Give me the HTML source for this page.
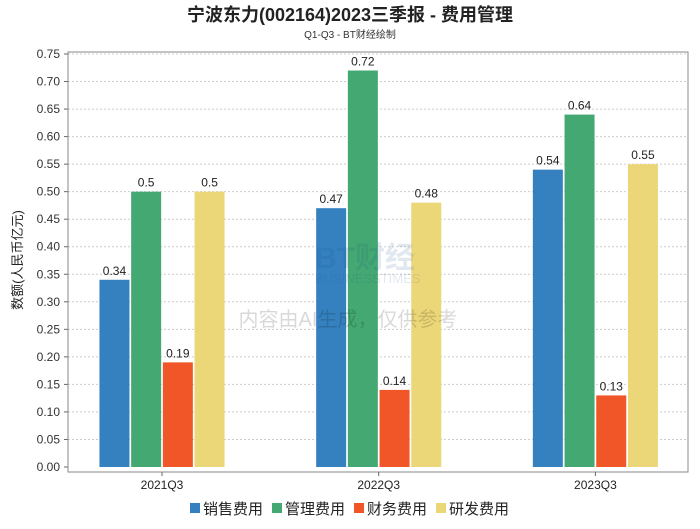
<!DOCTYPE html>
<html><head><meta charset="utf-8"><style>
body{margin:0;background:#fff;font-family:"Liberation Sans","Noto Sans CJK SC",sans-serif;}
svg text{font-family:"Liberation Sans","Noto Sans CJK SC",sans-serif;}
</style></head><body>
<svg id="c" width="700" height="524">
<text x="350" y="21" text-anchor="middle" font-size="18" font-weight="bold" fill="#222">宁波东力(002164)2023三季报 - 费用管理</text>
<text x="350" y="38" text-anchor="middle" font-size="10" fill="#333">Q1-Q3 - BT财经绘制</text>
<text transform="translate(22,260) rotate(-90)" text-anchor="middle" font-size="13" fill="#222">数额(人民币亿元)</text>
<g id="g"></g>
<g opacity="0.12"><text x="315" y="268" font-size="30" font-weight="bold" fill="#1a4c8c" font-family="Liberation Serif">BT财经</text><text x="315" y="283" font-size="13" fill="#1a4c8c" font-family="Liberation Serif">BUSINESSTIMES</text></g>
<text x="348" y="326" text-anchor="middle" font-size="20" fill="#000" opacity="0.15">内容由AI生成，仅供参考</text>
</svg>
<script>
const categories=["2021Q3","2022Q3","2023Q3"];
const seriesNames=["销售费用","管理费用","财务费用","研发费用"];
const sales=[0.34,0.47,0.54];
const admin=[0.5,0.72,0.64];
const finance=[0.19,0.14,0.13];
const rnd=[0.5,0.48,0.55];
const labels=[["0.34","0.47","0.54"],["0.5","0.72","0.64"],["0.19","0.14","0.13"],["0.5","0.48","0.55"]];
const yTicks=[0,0.05,0.1,0.15,0.2,0.25,0.3,0.35,0.4,0.45,0.5,0.55,0.6,0.65,0.7,0.75];
const colors=["#3581c0","#44a872","#f05628","#ecd778"];
const series=[sales,admin,finance,rnd];
const NS="http://www.w3.org/2000/svg";
const g=document.getElementById('g');
const L=68,R=688,T=52,B=467;
const y=v=>B-(v/0.75)*(B-54);
const step=216.7;
const xc=i=>162+step*i;
function el(t,a){const e=document.createElementNS(NS,t);for(const k in a)e.setAttribute(k,a[k]);g.appendChild(e);return e;}
yTicks.forEach(t=>{
 const l=el('line',{x1:L,x2:R,y1:y(t),y2:y(t),stroke:t===0?'none':'#ccc','stroke-dasharray':'2,2'});
 
 
 const tk=el('line',{x1:L-4,x2:L,y1:y(t),y2:y(t),stroke:'#666'});
 
 
 const tx=el('text',{x:L-8,y:y(t)+4,'text-anchor':'end','font-size':12,fill:'#333'});
 tx.textContent=t.toFixed(2);
 
 
});
const fr=el('rect',{x:L,y:T,width:R-L,height:472-T,fill:'none',stroke:'#888'});


const bw=30,gap=1.7;
categories.forEach((c,i)=>{
 const cx=xc(i);
 series.forEach((s,j)=>{
  const bx=cx-2*(bw+gap)+j*(bw+gap)+gap/2;
  const r=el('rect',{x:bx,y:y(s[i]),width:bw,height:B-y(s[i]),fill:colors[j]});
  
  
  const t=el('text',{x:bx+bw/2,y:y(s[i])-5,'text-anchor':'middle','font-size':12,fill:'#222'});
  t.textContent=labels[j][i];
  
  
 });
 const tk=el('line',{x1:cx,x2:cx,y1:472,y2:476,stroke:'#666'});
 
 
 const t=el('text',{x:cx,y:489,'text-anchor':'middle','font-size':12,fill:'#222'});
 t.textContent=c;
 
 
});
let lx=190;
seriesNames.forEach((n,j)=>{
 const r=el('rect',{x:lx,y:503,width:10,height:10,fill:colors[j]});
 
 
 const t=el('text',{x:lx+13,y:514,'font-size':15,fill:'#222'});
 t.textContent=n;
 
 
 lx+=82;
});
</script>
</body></html>
